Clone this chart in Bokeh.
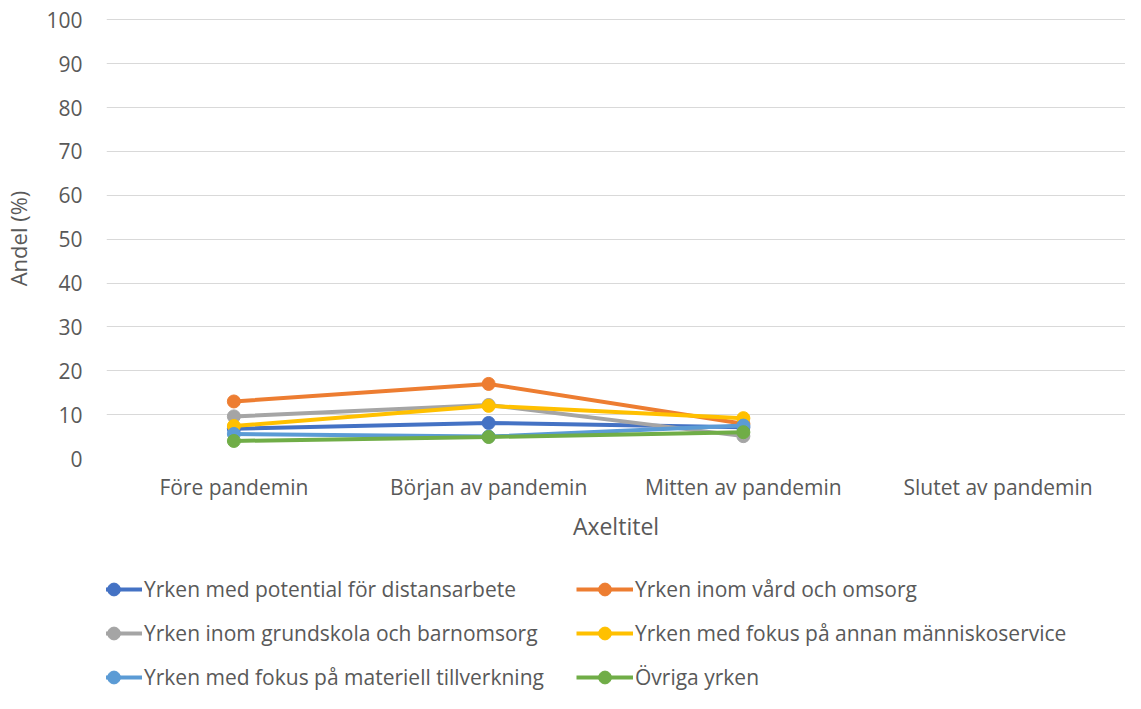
from bokeh.plotting import figure
from bokeh.layouts import column
from bokeh.models import ColumnDataSource, FactorRange, Range1d, Legend, LegendItem, SingleIntervalTicker
from bokeh.embed import file_html
from bokeh.resources import INLINE

nan = float("nan")
categories = ["Före pandemin", "Början av pandemin", "Mitten av pandemin", "Slutet av pandemin"]
series_names = [
    "Yrken med potential för distansarbete",
    "Yrken inom vård och omsorg",
    "Yrken inom grundskola och barnomsorg",
    "Yrken med fokus på annan människoservice",
    "Yrken med fokus på materiell tillverkning",
    "Övriga yrken",
]
distans = [6.8, 8.1, 7.1, nan]
vard = [13.0, 17.0, 7.9, nan]
grundskola = [9.6, 12.2, 5.1, nan]
manniskoservice = [7.4, 12.0, 9.2, nan]
materiell = [5.6, 5.0, 7.5, nan]
ovriga = [4.0, 4.9, 6.0, nan]
series_values = [distans, vard, grundskola, manniskoservice, materiell, ovriga]
colors = ["#4472C4", "#ED7D31", "#A5A5A5", "#FFC000", "#5B9BD5", "#70AD47"]

FONT = "Open Sans"
TXT = "#595959"

p = figure(width=1125, height=572, x_range=FactorRange(*categories, range_padding=0),
           y_range=Range1d(0, 100.3), output_backend="svg", toolbar_location=None,
           min_border_left=101, min_border_right=0, min_border_top=18, min_border_bottom=114)
p.outline_line_color = None
p.background_fill_color = "white"
p.border_fill_color = "white"

p.yaxis.ticker = SingleIntervalTicker(interval=10)
p.ygrid.grid_line_color = "#D9D9D9"
p.ygrid.grid_line_width = 1
p.xgrid.grid_line_color = None

for ax in (p.xaxis[0], p.yaxis[0]):
    ax.axis_line_color = None
    ax.major_tick_line_color = None
    ax.minor_tick_line_color = None
    ax.major_tick_out = 0
    ax.major_tick_in = 0
    ax.major_label_text_font = FONT
    ax.major_label_text_color = TXT
    ax.major_label_text_font_size = "21px"
    ax.axis_label_text_font = FONT
    ax.axis_label_text_color = TXT
    ax.axis_label_text_font_size = "23px"
    ax.axis_label_text_font_style = "normal"

p.yaxis.axis_label_text_font_size = "22px"
p.xaxis.axis_label = "Axeltitel"
p.xaxis.major_label_standoff = 14
p.xaxis.axis_label_standoff = 6
p.yaxis.axis_label = "Andel (%)"
p.yaxis.major_label_standoff = 20
p.yaxis.axis_label_standoff = 10

for name, vals, col in zip(series_names, series_values, colors):
    src = ColumnDataSource(dict(x=categories, y=vals))
    p.line("x", "y", source=src, line_color=col, line_width=4)
    p.scatter("x", "y", source=src, size=13, fill_color=col, line_color=col)

# Legend panel below the chart
lf = figure(width=1125, height=121, x_range=Range1d(0, 1), y_range=Range1d(0, 1),
            x_axis_location=None, y_axis_location=None,
            output_backend="svg", toolbar_location=None,
            min_border_left=0, min_border_right=0, min_border_top=0, min_border_bottom=0)
lf.grid.visible = False
lf.outline_line_color = None
lf.border_fill_color = "white"

items = []
for name, col in zip(series_names, colors):
    src = ColumnDataSource(dict(x=[nan], y=[nan]))
    ln = lf.line("x", "y", source=src, line_color=col, line_width=4)
    sc = lf.scatter("x", "y", source=src, size=13, fill_color=col, line_color=col)
    items.append(LegendItem(label=name, renderers=[ln, sc]))

def make_legend(its, loc):
    lg = Legend(items=its, location=loc, orientation="vertical",
                label_text_font=FONT, label_text_color=TXT, label_text_font_size="21px",
                glyph_width=57, glyph_height=32, label_height=32, label_standoff=2,
                spacing=12, padding=0, margin=0,
                border_line_color=None, background_fill_alpha=0)
    lf.add_layout(lg, "center")

make_legend([items[0], items[2], items[4]], (-21, 0))
make_legend([items[1], items[3], items[5]], (470, 0))

layout = column(p, lf, spacing=0)
open("out.html", "w").write(file_html(layout, INLINE))
